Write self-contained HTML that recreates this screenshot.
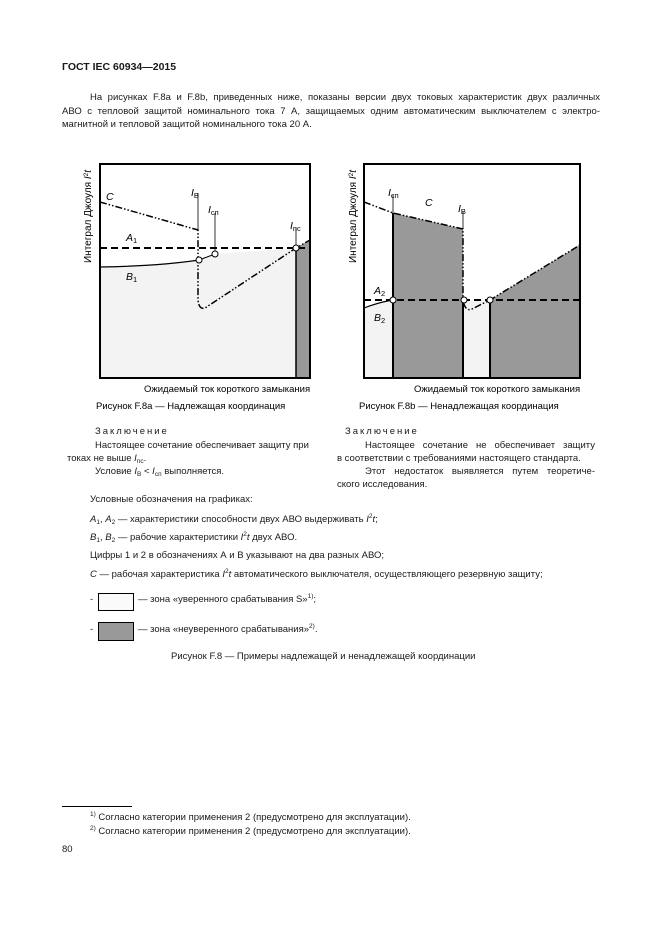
<!DOCTYPE html>
<html><head><meta charset="utf-8"><style>
body{margin:0;background:#fff;}
#p{position:relative;width:661px;height:936px;overflow:hidden;font-family:"Liberation Sans",Arial,sans-serif;color:#1a1a1a;font-size:9.5px;}
.t{position:absolute;white-space:nowrap;line-height:12px;}
.j{position:absolute;line-height:12px;text-align:justify;text-align-last:justify;white-space:nowrap;}
sub{font-size:6.5px;vertical-align:-2px;line-height:0}
sup{font-size:6.5px;vertical-align:4px;line-height:0}
svg text{font-family:"Liberation Sans",Arial,sans-serif;}
</style></head><body><div id="p">
<div class="t" style="left:62px;top:61px;font-size:10.5px;font-weight:bold;">ГОСТ IEC 60934—2015</div>
<div class="j" style="left:90px;top:92px;width:510px;">На рисунках F.8a и F.8b, приведенных ниже, показаны версии двух токовых характеристик двух различных</div>
<div class="j" style="left:62px;top:106px;width:538px;">АВО с тепловой защитой номинального тока 7 А, защищаемых одним автоматическим выключателем с электро-</div>
<div class="t" style="left:62px;top:119px;">магнитной и тепловой защитой номинального тока 20 А.</div>

<svg style="position:absolute;left:0;top:0" width="661" height="420">
<!-- Chart a -->
<rect x="100" y="164" width="210" height="214" fill="#fff"/>
<path d="M100,267 Q160,266 199,260 L215,254 L296,248 L296,378 L100,378 Z" fill="#f3f3f3"/>
<path d="M100,267 Q160,266 199,260" fill="none" stroke="#000" stroke-width="1.2"/>
<path d="M296,248 L310,240 L310,378 L296,378 Z" fill="#999"/>
<line x1="296" y1="248" x2="296" y2="378" stroke="#000" stroke-width="1.5"/>
<line x1="100" y1="248" x2="310" y2="248" stroke="#000" stroke-width="2" stroke-dasharray="7,4"/>
<path d="M100,202 L198,230 L198,300 Q199,310 205,308 L296,248 L310,240" fill="none" stroke="#000" stroke-width="1.5" stroke-dasharray="7,2,1.5,2,1.5,2"/>
<line x1="199" y1="260" x2="215" y2="254" stroke="#000" stroke-width="1"/>
<line x1="198" y1="193" x2="198" y2="230" stroke="#000" stroke-width="0.8"/>
<line x1="215" y1="213" x2="215" y2="254" stroke="#000" stroke-width="0.8"/>
<line x1="296" y1="228" x2="296" y2="248" stroke="#000" stroke-width="0.8"/>
<circle cx="199" cy="260" r="3" fill="#fff" stroke="#000"/>
<circle cx="215" cy="254" r="3" fill="#fff" stroke="#000"/>
<circle cx="296" cy="248" r="3" fill="#fff" stroke="#000"/>
<rect x="100" y="164" width="210" height="214" fill="none" stroke="#000" stroke-width="2"/>
<text x="106" y="200" font-size="10.5" font-style="italic">C</text>
<text x="191" y="196" font-size="10.5" font-style="italic">I<tspan font-size="7.5" font-style="normal" dy="2">B</tspan></text>
<text x="208" y="213" font-size="10.5" font-style="italic">I<tspan font-size="7.5" font-style="normal" dy="2">сп</tspan></text>
<text x="290" y="229" font-size="10.5" font-style="italic">I<tspan font-size="7.5" font-style="normal" dy="2">пс</tspan></text>
<text x="126" y="241" font-size="10.5" font-style="italic">A<tspan font-size="7.5" font-style="normal" dy="2">1</tspan></text>
<text x="126" y="280" font-size="10.5" font-style="italic">B<tspan font-size="7.5" font-style="normal" dy="2">1</tspan></text>
<text transform="translate(91,263) rotate(-90)" font-size="10">Интеграл Джоуля <tspan font-style="italic">I</tspan><tspan font-size="6.5" dy="-3">2</tspan><tspan font-style="italic" dy="3">t</tspan></text>
<text x="144" y="392" font-size="9.5">Ожидаемый ток короткого замыкания</text>
<text x="96" y="409" font-size="9.5">Рисунок F.8a — Надлежащая координация</text>

<!-- Chart b -->
<rect x="364" y="164" width="216" height="214" fill="#fff"/>
<path d="M364,308 Q380,302 393,300 L393,378 L364,378 Z" fill="#f3f3f3"/>
<rect x="463" y="300" width="27" height="78" fill="#f3f3f3"/>
<path d="M393,213 L463,229 L463,378 L393,378 Z" fill="#999"/>
<path d="M490,300 L580,245 L580,378 L490,378 Z" fill="#999"/>
<path d="M364,308 Q380,302 393,300" fill="none" stroke="#000" stroke-width="1.2"/>
<line x1="393" y1="213" x2="393" y2="378" stroke="#000" stroke-width="2"/>
<line x1="463" y1="300" x2="463" y2="378" stroke="#000" stroke-width="2"/>
<line x1="490" y1="300" x2="490" y2="378" stroke="#000" stroke-width="2"/>
<line x1="393" y1="195" x2="393" y2="213" stroke="#000" stroke-width="0.8"/>
<line x1="463" y1="212" x2="463" y2="229" stroke="#000" stroke-width="0.8"/>
<line x1="364" y1="300" x2="580" y2="300" stroke="#000" stroke-width="2" stroke-dasharray="7,4"/>
<path d="M364,202 L393,213 L463,229 L463,300 Q465,312 472,309 L490,300 L580,245" fill="none" stroke="#000" stroke-width="1.5" stroke-dasharray="7,2,1.5,2,1.5,2"/>
<circle cx="393" cy="300" r="3" fill="#fff" stroke="#000"/>
<circle cx="464" cy="300" r="3" fill="#fff" stroke="#000"/>
<circle cx="490" cy="300" r="3" fill="#fff" stroke="#000"/>
<rect x="364" y="164" width="216" height="214" fill="none" stroke="#000" stroke-width="2"/>
<text x="388" y="196" font-size="10.5" font-style="italic">I<tspan font-size="7.5" font-style="normal" dy="2">сп</tspan></text>
<text x="425" y="206" font-size="10.5" font-style="italic">C</text>
<text x="458" y="212" font-size="10.5" font-style="italic">I<tspan font-size="7.5" font-style="normal" dy="2">B</tspan></text>
<text x="374" y="294" font-size="10.5" font-style="italic">A<tspan font-size="7.5" font-style="normal" dy="2">2</tspan></text>
<text x="374" y="321" font-size="10.5" font-style="italic">B<tspan font-size="7.5" font-style="normal" dy="2">2</tspan></text>
<text transform="translate(356,263) rotate(-90)" font-size="10">Интеграл Джоуля <tspan font-style="italic">I</tspan><tspan font-size="6.5" dy="-3">2</tspan><tspan font-style="italic" dy="3">t</tspan></text>
<text x="414" y="392" font-size="9.5">Ожидаемый ток короткого замыкания</text>
<text x="359" y="409" font-size="9.5">Рисунок F.8b — Ненадлежащая координация</text>
</svg>

<div class="t" style="left:95px;top:426px;letter-spacing:2px;">Заключение</div>
<div class="j" style="left:95px;top:440px;width:211px;">Настоящее сочетание обеспечивает защиту при</div>
<div class="t" style="left:67px;top:453px;">токах не выше <i>I</i><sub>пс</sub>.</div>
<div class="t" style="left:95px;top:466px;">Условие <i>I</i><sub>B</sub> &lt; <i>I</i><sub>сп</sub> выполняется.</div>

<div class="t" style="left:345px;top:426px;letter-spacing:2px;">Заключение</div>
<div class="j" style="left:365px;top:440px;width:230px;">Настоящее сочетание не обеспечивает защиту</div>
<div class="t" style="left:337px;top:453px;">в соответствии с требованиями настоящего стандарта.</div>
<div class="j" style="left:365px;top:466px;width:230px;">Этот недостаток выявляется путем теоретиче-</div>
<div class="t" style="left:337px;top:479px;">ского исследования.</div>

<div class="t" style="left:90px;top:494px;">Условные обозначения на графиках:</div>
<div class="t" style="left:90px;top:514px;"><i>A</i><sub>1</sub>, <i>A</i><sub>2</sub> — характеристики способности двух АВО выдерживать <i>I</i><sup>2</sup><i>t</i>;</div>
<div class="t" style="left:90px;top:532px;"><i>B</i><sub>1</sub>, <i>B</i><sub>2</sub> — рабочие характеристики <i>I</i><sup>2</sup><i>t</i> двух АВО.</div>
<div class="t" style="left:90px;top:550px;">Цифры 1 и 2 в обозначениях А и В указывают на два разных АВО;</div>
<div class="t" style="left:90px;top:569px;"><i>C</i> — рабочая характеристика <i>I</i><sup>2</sup><i>t</i> автоматического выключателя, осуществляющего резервную защиту;</div>
<div class="t" style="left:90px;top:594px;">-</div>
<div style="position:absolute;left:98px;top:593px;width:34px;height:16px;border:1px solid #000;background:#fafafa;"></div>
<div class="t" style="left:138px;top:594px;">— зона «уверенного срабатывания S»<sup>1)</sup>;</div>
<div class="t" style="left:90px;top:624px;">-</div>
<div style="position:absolute;left:98px;top:622px;width:34px;height:17px;border:1px solid #000;background:#999;"></div>
<div class="t" style="left:138px;top:624px;">— зона «неуверенного срабатывания»<sup>2)</sup>.</div>
<div class="t" style="left:171px;top:651px;">Рисунок F.8 — Примеры надлежащей и ненадлежащей координации</div>

<div style="position:absolute;left:62px;top:806px;width:70px;border-top:1px solid #000;"></div>
<div class="t" style="left:90px;top:812px;"><sup>1)</sup> Согласно категории применения 2 (предусмотрено для эксплуатации).</div>
<div class="t" style="left:90px;top:826px;"><sup>2)</sup> Согласно категории применения 2 (предусмотрено для эксплуатации).</div>
<div class="t" style="left:62px;top:844px;">80</div>
</div></body></html>
